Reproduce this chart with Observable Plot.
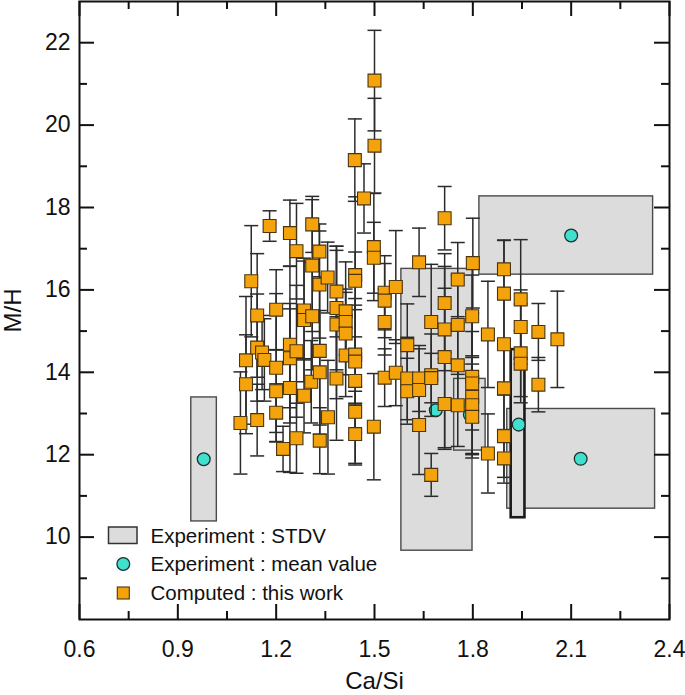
<!DOCTYPE html>
<html><head><meta charset="utf-8">
<script src="https://cdn.jsdelivr.net/npm/d3@7"></script>
<script src="https://cdn.jsdelivr.net/npm/@observablehq/plot@0.6"></script>
<style>
body{margin:0;background:#fff;}
#chart{position:relative;width:685px;height:695px;}
#chart svg{position:absolute;left:0;top:0;}
</style></head><body><div id="chart"></div>
<script>
// Computed : this work (Ca/Si, M/H, error)
const caSi = [1.091,1.108,1.108,1.124,1.142,1.142,1.142,1.157,1.164,1.18,1.2,1.2,1.2,1.2,1.221,1.242,1.242,1.242,1.242,1.262,1.262,1.262,1.285,1.285,1.285,1.31,1.31,1.31,1.307,1.332,1.332,1.333,1.333,1.333,1.357,1.358,1.384,1.384,1.384,1.384,1.412,1.412,1.412,1.412,1.44,1.441,1.441,1.441,1.441,1.441,1.441,1.441,1.468,1.5,1.5,1.498,1.498,1.498,1.531,1.531,1.531,1.531,1.565,1.565,1.6,1.6,1.6,1.636,1.636,1.636,1.636,1.673,1.673,1.673,1.673,1.714,1.714,1.714,1.714,1.714,1.754,1.754,1.754,1.754,1.8,1.798,1.798,1.798,1.798,1.798,1.798,1.846,1.846,1.895,1.895,1.895,1.895,1.895,1.895,1.946,1.946,1.946,1.946,2.0,2.0,2.058];
const mh = [12.77,14.29,13.71,16.21,12.84,15.38,14.6,14.48,14.3,17.55,15.52,14.11,13.54,13.02,12.14,17.38,14.67,14.34,13.62,16.94,14.51,12.4,15.5,15.27,13.43,17.59,16.59,15.36,13.77,16.93,16.13,14.52,14.0,12.34,16.3,12.91,15.96,15.56,15.16,13.85,15.48,15.22,14.94,14.41,19.15,16.36,16.22,14.43,14.26,13.79,13.04,12.5,18.22,21.08,19.5,17.04,16.78,12.68,15.93,15.74,15.22,13.87,16.07,13.99,14.66,13.85,13.54,16.67,13.85,13.57,12.72,15.22,13.93,13.86,11.51,17.74,15.68,15.04,14.37,13.23,16.25,15.15,14.17,13.2,16.65,15.36,13.89,13.73,13.4,13.2,12.92,14.92,12.03,16.5,15.91,14.68,13.61,12.45,11.91,15.77,15.1,14.46,14.21,14.98,13.7,14.8];
const err = [1.24,1.55,1.2,1.35,0.87,1.5,1.3,0.9,1.0,0.37,0.97,1.8,1.0,0.7,0.55,0.8,1.9,1.2,2.05,1.16,1.6,0.85,1.2,1.5,0.9,0.68,1.6,1.3,1.0,0.67,1.3,1.8,1.5,0.8,0.86,1.38,1.1,1.5,1.8,1.5,1.2,0.8,1.0,1.0,1.0,1.9,0.7,1.2,0.6,2.0,0.5,0.75,0.84,1.22,1.15,1.3,0.86,1.29,0.9,0.9,0.8,0.7,1.37,0.8,1.0,1.0,0.8,0.83,0.8,1.0,1.2,1.4,1.0,0.6,0.52,0.77,1.2,1.0,2.2,1.1,0.9,1.2,1.0,1.0,1.09,1.0,1.1,1.7,0.8,1.2,1.0,1.29,0.96,0.7,1.3,1.2,1.0,1.0,0.6,1.45,0.9,1.2,0.8,0.69,0.66,1.17];

// Experiment : mean value and STDV boxes
const expId   = ["A","B","C","D","E","F"];
const expX    = [0.979,1.687,1.791,2.100,2.129,1.940];
const expY    = [11.89,13.08,12.97,17.32,11.90,12.73];
const expXlo  = [0.941,1.582,1.743,1.820,1.905,1.917];
const expXhi  = [1.019,1.799,1.839,2.350,2.356,1.959];
const expYlo  = [10.38,9.67,12.10,16.37,10.69,10.47];
const expYhi  = [13.39,16.51,13.84,18.27,13.11,14.55];

const xTicks = [0.6,0.9,1.2,1.5,1.8,2.1,2.4];
const xMinor = [0.75,1.05,1.35,1.65,1.95,2.25];
const yTicks = [10,12,14,16,18,20,22];
const yMinor = [9,11,13,15,17,19,21];
const legendLabels = ["Experiment : STDV","Experiment : mean value","Computed : this work"];

const computed = caSi.map((x,i)=>({x, y: mh[i], e: err[i]}));
const exps = expId.map((id,i)=>({id, x: expX[i], y: expY[i], x1: expXlo[i], x2: expXhi[i], y1: expYlo[i], y2: expYhi[i]}));

const W = 685, H = 695, mL = 79, mR = 16, mT = 1, mB = 76;
const pw = W - mL - mR, ph = H - mT - mB;
const font = "'Liberation Sans', Arial, Helvetica, sans-serif";

const capSymbol = {draw(ctx){ ctx.moveTo(-7,0); ctx.lineTo(7,0); }};
const ink = "#111";

const plot = Plot.plot({
  width: W, height: H,
  marginLeft: mL, marginRight: mR, marginTop: mT, marginBottom: mB,
  style: {fontFamily: font, fontSize: "23px", color: "#111", background: "#fff"},
  x: {domain: [0.6, 2.4]},
  y: {domain: [8, 23]},
  marks: [
    Plot.rect(exps, {x1: "x1", x2: "x2", y1: "y1", y2: "y2", fill: "#dcdcdc",
      stroke: d => d.id === "F" ? "#1a1a1a" : "#4a4a4a",
      strokeWidth: d => d.id === "F" ? 2.6 : 1.4}),
    Plot.dot(exps, {x: "x", y: "y", r: 6.4, fill: "#40e0cf", stroke: "#1d2f2f", strokeWidth: 1.3}),
    Plot.ruleX(computed, {x: "x", y1: d => d.y - d.e, y2: d => d.y + d.e, stroke: "#2b2b2b", strokeWidth: 1.5}),
    Plot.dot(computed, {x: "x", y: d => d.y + d.e, symbol: capSymbol, stroke: "#2b2b2b", strokeWidth: 1.5, fill: "none"}),
    Plot.dot(computed, {x: "x", y: d => d.y - d.e, symbol: capSymbol, stroke: "#2b2b2b", strokeWidth: 1.5, fill: "none"}),
    Plot.dot(computed, {x: "x", y: "y", symbol: "square", r: 7.3, fill: "#f5a30a", stroke: "#4a3510", strokeWidth: 1.1}),
    // inward ticks on all four sides
    Plot.tickX(xTicks, {x: d => d, insetTop: ph - 15, stroke: ink, strokeWidth: 2}),
    Plot.tickX(xTicks, {x: d => d, insetBottom: ph - 15, stroke: ink, strokeWidth: 2}),
    Plot.tickX(xMinor, {x: d => d, insetTop: ph - 8, stroke: ink, strokeWidth: 2}),
    Plot.tickX(xMinor, {x: d => d, insetBottom: ph - 8, stroke: ink, strokeWidth: 2}),
    Plot.tickY(yTicks, {y: d => d, insetRight: pw - 15, stroke: ink, strokeWidth: 2}),
    Plot.tickY(yTicks, {y: d => d, insetLeft: pw - 15, stroke: ink, strokeWidth: 2}),
    Plot.tickY(yMinor, {y: d => d, insetRight: pw - 8, stroke: ink, strokeWidth: 2}),
    Plot.tickY(yMinor, {y: d => d, insetLeft: pw - 8, stroke: ink, strokeWidth: 2}),
    Plot.frame({stroke: ink, strokeWidth: 2}),
    Plot.axisX(xTicks, {anchor: "bottom", tickSize: 0, tickPadding: 21, tickFormat: d3.format(".1f"), fontSize: 23, label: null, fill: ink}),
    Plot.axisY(yTicks, {anchor: "left", tickSize: 0, tickPadding: 9, fontSize: 23, label: null, fill: ink}),
    Plot.text(["Ca/Si"], {frameAnchor: "bottom", dy: 62, lineAnchor: "middle", textAnchor: "middle", text: d => d, fontSize: 24, fill: ink}),
    Plot.text(["M/H"], {frameAnchor: "left", dx: -66, rotate: -90, lineAnchor: "middle", textAnchor: "middle", text: d => d, fontSize: 24, fill: ink})
  ]
});
const chart = document.getElementById("chart");
chart.appendChild(plot);

// legend overlay inside the frame
const lg = d3.select(chart).append("svg").attr("width", W).attr("height", H)
  .style("pointer-events", "none").style("font-family", font);
const rowsY = [536, 564, 593];
lg.append("rect").attr("x", 108.5).attr("y", 527).attr("width", 28.5).attr("height", 16.5)
  .attr("fill", "#dcdcdc").attr("stroke", "#333").attr("stroke-width", 1.5);
lg.append("circle").attr("cx", 123.3).attr("cy", rowsY[1]).attr("r", 6.4)
  .attr("fill", "#40e0cf").attr("stroke", "#1d2f2f").attr("stroke-width", 1.3);
lg.append("rect").attr("x", 117.3).attr("y", rowsY[2] - 6).attr("width", 12).attr("height", 12)
  .attr("fill", "#f5a30a").attr("stroke", "#4a3510").attr("stroke-width", 1.1);
lg.selectAll("text.l").data(legendLabels).join("text").attr("class", "l")
  .attr("x", 150.5).attr("y", (d, i) => rowsY[i]).attr("dy", "0.36em")
  .attr("font-size", 20.5).attr("fill", "#111").text(d => d);
</script></body></html>
